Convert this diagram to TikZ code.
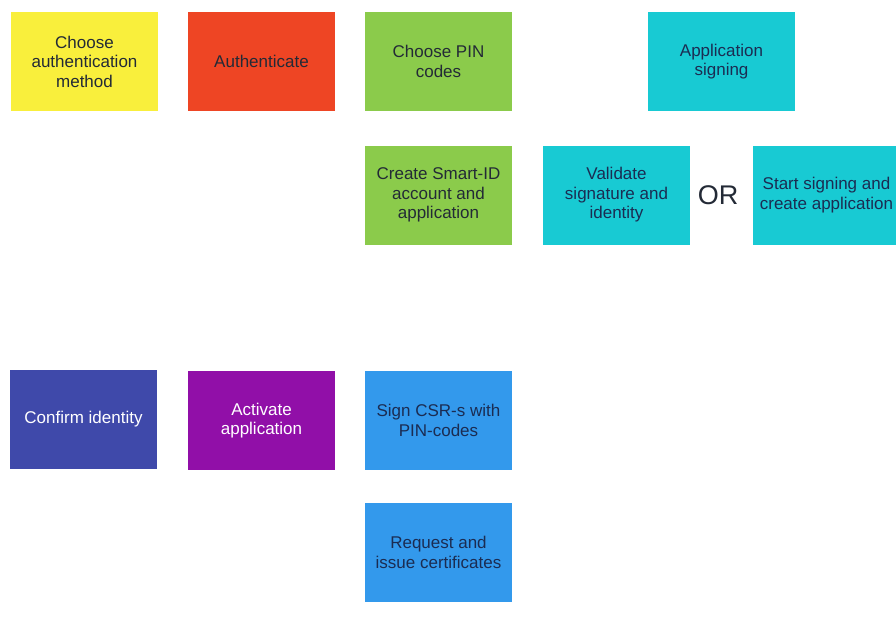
\documentclass[tikz,border=0pt]{standalone}
\usepackage{fontspec}
\setmainfont{Liberation Sans}
\definecolor{cyellow}{HTML}{F9EF3C}
\definecolor{cred}{HTML}{EE4524}
\definecolor{cgreen}{HTML}{8BCB4B}
\definecolor{cteal}{HTML}{18CAD3}
\definecolor{cindigo}{HTML}{3F49AA}
\definecolor{cpurple}{HTML}{910FA8}
\definecolor{cblue}{HTML}{3399EC}
\definecolor{darktext}{HTML}{232A36}
\definecolor{navytext}{HTML}{1B2C52}
\begin{document}
\begin{tikzpicture}[x=1pt,y=-1pt,
  card/.style={rectangle, inner sep=0pt, minimum width=147pt, minimum height=99pt,
    align=center, font=\fontsize{17}{19.5}\selectfont, text=darktext},
  cardlight/.style={card, text=white},
  carddeep/.style={card, text=navytext}]
  \useasboundingbox (0,0) rectangle (896,626);
  \clip (0,0) rectangle (896,626);
  \fill[white] (0,0) rectangle (896,626);

  % top row
  \node[card, fill=cyellow] (method) at (84.5,61.5) {Choose\\authentication\\method};
  \node[card, fill=cred] (auth) at (261.5,61.5) {Authenticate};
  \node[card, fill=cgreen] (pin) at (438.5,61.5) {Choose PIN\\codes};
  \node[carddeep, fill=cteal] (appsign) at (721.5,61.5) {Application\\signing};

  % second row
  \node[card, fill=cgreen] (account) at (438.5,195) {Create Smart-ID\\account and\\application};
  \node[carddeep, fill=cteal] (validate) at (616.5,195) {Validate\\signature and\\identity};
  \node[font=\fontsize{27}{30}\selectfont, text=darktext] (or) at (718,195) {OR};
  \node[carddeep, fill=cteal] (start) at (826.5,195) {Start signing and\\create application};

  % lower rows
  \node[cardlight, fill=cindigo] (confirm) at (83.5,419.5) {Confirm identity};
  \node[cardlight, fill=cpurple] (activate) at (261.5,420.5) {Activate\\application};
  \node[carddeep, fill=cblue] (csr) at (438.5,420.5) {Sign CSR-s with\\PIN-codes};
  \node[carddeep, fill=cblue] (certs) at (438.5,552.5) {Request and\\issue certificates};
\end{tikzpicture}
\end{document}
